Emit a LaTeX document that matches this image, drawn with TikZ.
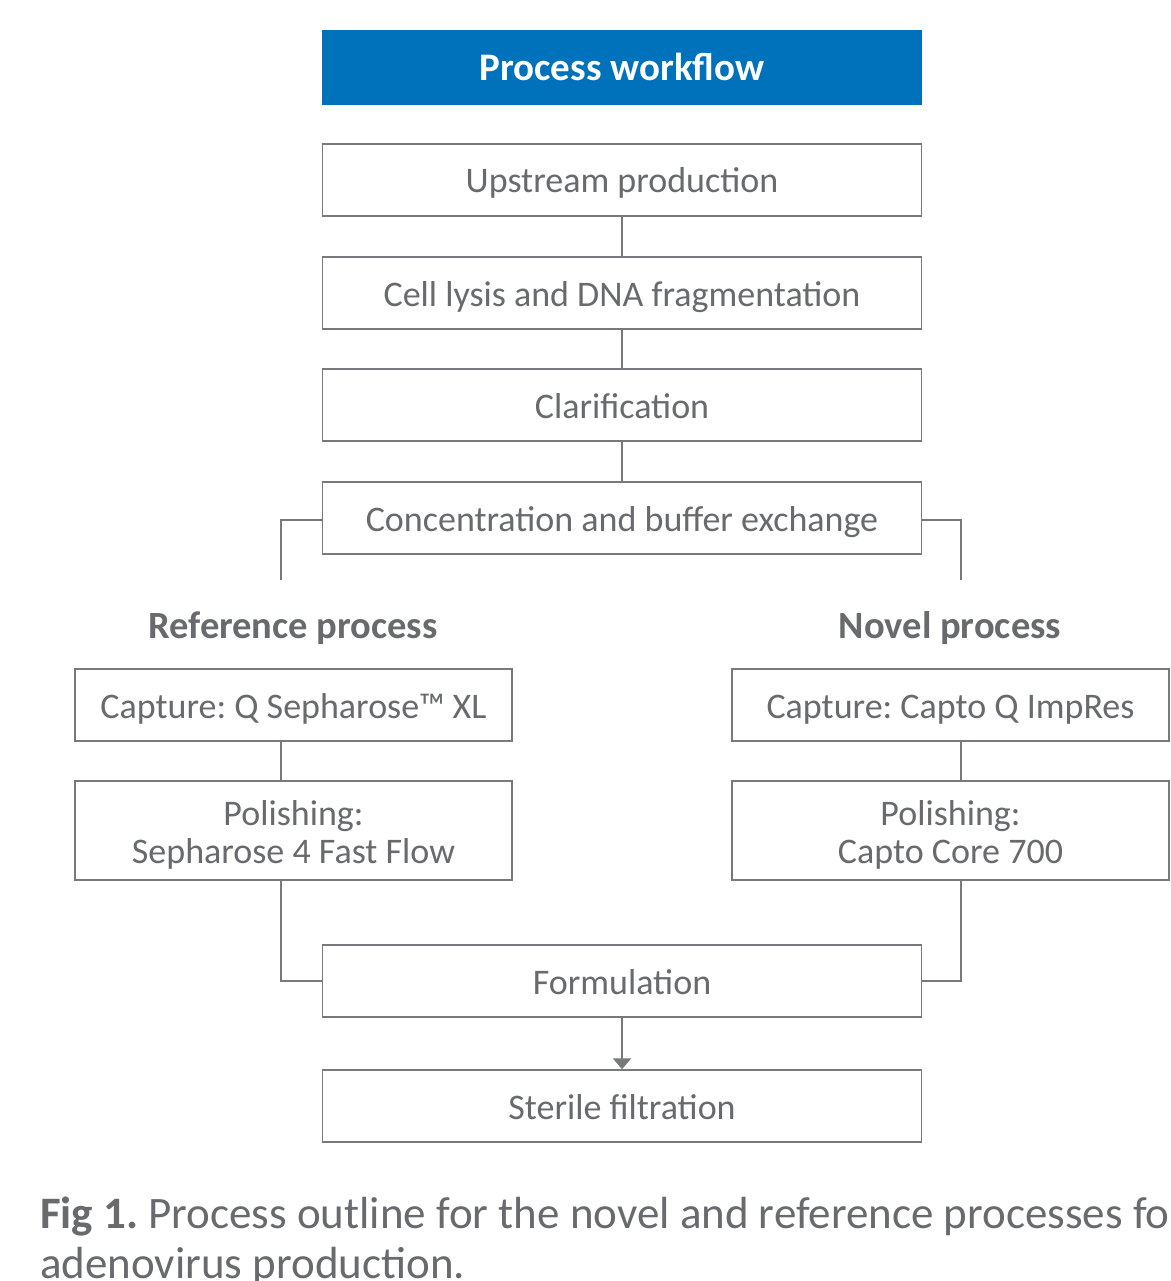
\documentclass[tikz,border=0pt]{standalone}
\usepackage{fontspec}
\setmainfont{Carlito}
\usetikzlibrary{arrows.meta}
\definecolor{gebl}{RGB}{0,114,188}
\definecolor{txtgray}{RGB}{105,106,110}
\definecolor{lngray}{RGB}{120,121,125}
\tikzset{
  box/.style={draw=lngray, line width=1.4pt, fill=white, inner sep=0pt, minimum width=599pt, minimum height=72pt,
    text=txtgray, font=\fontsize{36}{38}\selectfont, text height=26pt, text depth=0pt},
  sidebox/.style={box, minimum width=437pt},
  polbox/.style={draw=lngray, line width=1.4pt, fill=white, inner sep=0pt, minimum width=437pt, minimum height=99pt},
  poltext/.style={text=txtgray, font=\fontsize{36}{38}\selectfont, align=center, yshift=-4pt, inner sep=0pt},
  link/.style={draw=lngray, line width=2pt},
  hdr/.style={text=txtgray, font=\fontsize{38.5}{40}\selectfont\bfseries, text height=28pt, text depth=0pt},
}
\begin{document}
\frenchspacing
\begin{tikzpicture}[x=1pt,y=-1pt]
\clip (0,0) rectangle (1170,1281);
\fill[white] (0,0) rectangle (1170,1281);
\node[fill=gebl, minimum width=600pt, minimum height=75pt, inner sep=0pt, text=white, font=\fontsize{39}{40}\selectfont\bfseries, text height=27pt, text depth=0pt] (head) at (622,67.5) {Process workflow};
\node[box] (up) at (622,180) {Upstream production};
\node[box] (lys) at (622,293) {Cell lysis and DNA fragmentation};
\node[box] (cla) at (622,405) {Clarification};
\node[box] (con) at (622,518) {Concentration and buffer exchange};
\node[box] (form) at (622,981) {Formulation};
\node[box] (ster) at (622,1106) {Sterile filtration};
\node[hdr] (refh) at (293,624) {Reference process};
\node[hdr] (novh) at (950,624) {Novel process};
\node[sidebox] (rcap) at (293.5,705) {Capture: Q Sepharose™ XL};
\node[polbox, label={[poltext]center:Polishing:\\Sepharose 4 Fast Flow}] (rpol) at (293.5,830.5) {};
\node[sidebox] (ncap) at (950.5,705) {Capture: Capto Q ImpRes};
\node[polbox, label={[poltext]center:Polishing:\\Capto Core 700}] (npol) at (950.5,830.5) {};
\coordinate (lend) at (281,580);
\coordinate (rend) at (961,580);
\draw[link] (up) -- (lys);
\draw[link] (lys) -- (cla);
\draw[link] (cla) -- (con);
\draw[link] (con.west |- 0,520) -| (lend);
\draw[link] (con.east |- 0,520) -| (rend);
\draw[link] (rcap.south -| 281,0) -- (rpol.north -| 281,0);
\draw[link] (ncap.south -| 961,0) -- (npol.north -| 961,0);
\draw[link] (rpol.south -| 281,0) |- (form.west);
\draw[link] (npol.south -| 961,0) |- (form.east);
\draw[link, -{Triangle[length=11pt,width=18pt]}] (form) -- (ster);
\node[anchor=base west, inner sep=0pt, text=txtgray, font=\fontsize{45}{50}\selectfont] (cap1) at (40,1228) {\textbf{Fig 1.} Process outline for the novel and reference processes for};
\node[anchor=base west, inner sep=0pt, text=txtgray, font=\fontsize{45}{50}\selectfont] (cap2) at (40,1278) {adenovirus production.};
\end{tikzpicture}
\end{document}
